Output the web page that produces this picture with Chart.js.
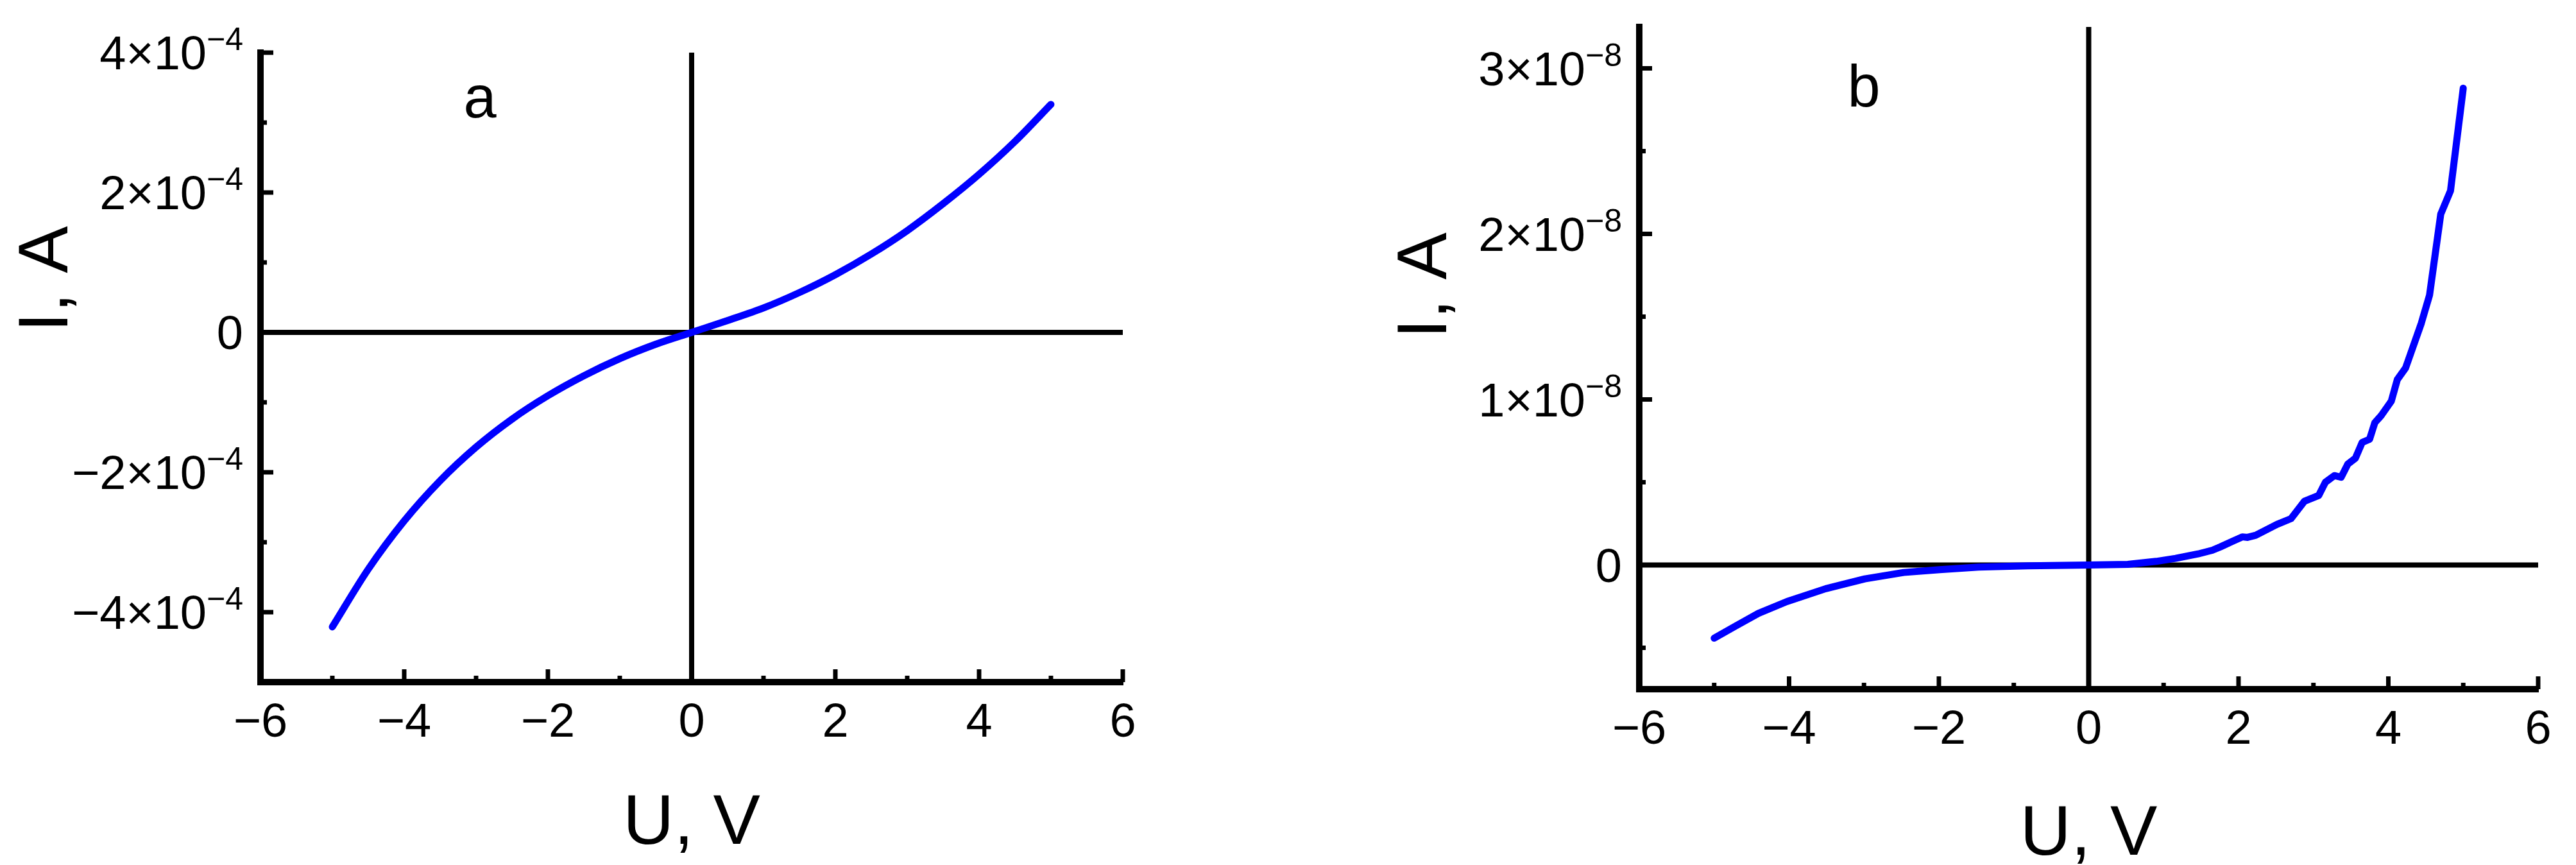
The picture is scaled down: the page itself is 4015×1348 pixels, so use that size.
<!DOCTYPE html>
<html lang="en">
<head>
<meta charset="UTF-8">
<title>I-V curves</title>
<script src="https://cdn.jsdelivr.net/npm/chart.js"></script>
<style>
  html, body { margin: 0; padding: 0; background: #fff; }
  body { width: 4015px; height: 1348px; position: relative; overflow: hidden; }
  .panel { position: absolute; top: 0; height: 1348px; }
  #panelA { left: 0; width: 2000px; }
  #panelB { left: 2000px; width: 2015px; }
</style>
</head>
<body>
<div class="panel" id="panelA"><canvas id="chartA" width="2000" height="1348"></canvas></div>
<div class="panel" id="panelB"><canvas id="chartB" width="2015" height="1348"></canvas></div>
<script>
// panel a: voltage (V) and current (A)
const voltageA = [-5.0, -4.5, -4.0, -3.5, -3.0, -2.5, -2.0, -1.5, -1.0, -0.5, 0.0,
                  0.5, 1.0, 1.5, 2.0, 2.5, 3.0, 3.5, 4.0, 4.5, 5.0];
const currentA = [-4.21e-4, -3.385e-4, -2.695e-4, -2.12e-4, -1.64e-4, -1.24e-4, -0.905e-4, -0.62e-4, -0.375e-4, -0.17e-4, 0,
                  0.17e-4, 0.35e-4, 0.57e-4, 0.825e-4, 1.12e-4, 1.455e-4, 1.84e-4, 2.26e-4, 2.73e-4, 3.26e-4];

// panel b
const voltageB = [-5.00, -4.72, -4.41, -4.03, -3.51, -2.99, -2.47, -1.99, -1.47, -0.81, 0.00, 0.52, 0.90, 1.16, 1.46, 1.65, 1.76,
                  1.93, 2.05, 2.12, 2.23, 2.51, 2.70, 2.88, 3.07, 3.16, 3.28, 3.37, 3.46, 3.56, 3.65, 3.75, 3.82, 3.90, 4.04,
                  4.12, 4.23, 4.44, 4.55, 4.70, 4.83, 5.00];
const currentB = [-0.442e-8, -0.37e-8, -0.292e-8, -0.221e-8, -0.143e-8, -0.084e-8, -0.045e-8, -0.028e-8, -0.013e-8, -0.005e-8, 0,
                  0.004e-8, 0.022e-8, 0.04e-8, 0.067e-8, 0.089e-8, 0.11e-8, 0.145e-8, 0.17e-8, 0.167e-8, 0.18e-8, 0.245e-8,
                  0.28e-8, 0.385e-8, 0.42e-8, 0.50e-8, 0.54e-8, 0.53e-8, 0.61e-8, 0.645e-8, 0.74e-8, 0.76e-8, 0.86e-8, 0.90e-8,
                  0.99e-8, 1.12e-8, 1.19e-8, 1.46e-8, 1.63e-8, 2.12e-8, 2.26e-8, 2.88e-8];

const xTicks = [-6, -4, -2, 0, 2, 4, 6];
const xTickLabels = ['−6', '−4', '−2', '0', '2', '4', '6'];
const xMinorTicks = [-5, -3, -1, 1, 3, 5];

const yTicksA = [-4e-4, -2e-4, 0, 2e-4, 4e-4];
const yTickLabelsA = ['−4×10^−4', '−2×10^−4', '0', '2×10^−4', '4×10^−4'];
const yMinorTicksA = [-3e-4, -1e-4, 1e-4, 3e-4];

const yTicksB = [0, 1e-8, 2e-8, 3e-8];
const yTickLabelsB = ['0', '1×10^−8', '2×10^−8', '3×10^−8'];
const yMinorTicksB = [-0.5e-8, 0.5e-8, 1.5e-8, 2.5e-8];

const FONT = '"Liberation Sans", Arial, sans-serif';
const TICK_SIZE = 74;
const SUP_SIZE = 50;
const TITLE_SIZE = 110;

function line(ctx, x1, y1, x2, y2) {
    ctx.beginPath();
    ctx.moveTo(x1, y1);
    ctx.lineTo(x2, y2);
    ctx.stroke();
}

// tick label with optional superscript exponent after '^'
function drawSupLabel(ctx, text, xRight, yMid) {
    const parts = text.split('^');
    ctx.font = TICK_SIZE + 'px ' + FONT;
    const w1 = ctx.measureText(parts[0]).width;
    let w2 = 0;
    if (parts[1]) {
        ctx.font = SUP_SIZE + 'px ' + FONT;
        w2 = ctx.measureText(parts[1]).width;
    }
    const x0 = xRight - w1 - w2;
    const base = yMid + TICK_SIZE * 0.716 / 2;
    ctx.textAlign = 'left';
    ctx.textBaseline = 'alphabetic';
    ctx.font = TICK_SIZE + 'px ' + FONT;
    ctx.fillText(parts[0], x0, base);
    if (parts[1]) {
        ctx.font = SUP_SIZE + 'px ' + FONT;
        ctx.fillText(parts[1], x0 + w1, base - 30);
    }
}

function makeDecor(cfg) {
    return {
        id: 'decor',
        beforeDatasetsDraw(chart) {
            const ctx = chart.ctx;
            const area = chart.chartArea;
            const x0 = chart.scales.x.getPixelForValue(0);
            const y0 = chart.scales.y.getPixelForValue(0);
            ctx.save();
            ctx.strokeStyle = '#000';
            ctx.lineWidth = 8;
            line(ctx, area.left, y0, area.right, y0);
            line(ctx, x0, area.top, x0, area.bottom);
            ctx.restore();
        },
        afterDraw(chart) {
            const ctx = chart.ctx;
            const area = chart.chartArea;
            const xs = chart.scales.x;
            const ys = chart.scales.y;
            ctx.save();
            ctx.strokeStyle = '#000';
            ctx.fillStyle = '#000';
            ctx.fillRect(area.left - 5, area.bottom - 5, 10, 10);

            // inward ticks
            ctx.lineWidth = 7;
            xTicks.forEach(v => { const p = xs.getPixelForValue(v); line(ctx, p, area.bottom, p, area.bottom - 20); });
            xMinorTicks.forEach(v => { const p = xs.getPixelForValue(v); line(ctx, p, area.bottom, p, area.bottom - 10); });
            cfg.yTicks.forEach(v => { const p = ys.getPixelForValue(v); line(ctx, area.left, p, area.left + 20, p); });
            cfg.yMinor.forEach(v => { const p = ys.getPixelForValue(v); line(ctx, area.left, p, area.left + 10, p); });

            // x tick labels
            ctx.font = TICK_SIZE + 'px ' + FONT;
            ctx.textAlign = 'center';
            ctx.textBaseline = 'alphabetic';
            xTicks.forEach((v, i) => ctx.fillText(xTickLabels[i], xs.getPixelForValue(v), area.bottom + 85));

            // y tick labels
            cfg.yTicks.forEach((v, i) => drawSupLabel(ctx, cfg.yLabels[i], area.left - 27, ys.getPixelForValue(v)));

            // axis titles
            ctx.font = TITLE_SIZE + 'px ' + FONT;
            ctx.textAlign = 'center';
            ctx.textBaseline = 'alphabetic';
            ctx.fillText('U, V', (area.left + area.right) / 2, area.bottom + cfg.xTitleOffset);
            ctx.save();
            ctx.translate(area.left - 340, cfg.yTitleY);
            ctx.rotate(-Math.PI / 2);
            ctx.fillText('I, A', 0, TITLE_SIZE * 0.716 / 2);
            ctx.restore();

            // panel letter
            ctx.font = '92px ' + FONT;
            ctx.fillText(cfg.letter, cfg.letterX, cfg.letterY);
            ctx.restore();
        }
    };
}

function makePanel(canvasId, volts, amps, cfg) {
    const points = volts.map((u, i) => ({ x: u, y: amps[i] }));
    return new Chart(document.getElementById(canvasId), {
        type: 'scatter',
        data: {
            datasets: [{
                data: points,
                showLine: true,
                borderColor: '#0000ff',
                borderWidth: 11,
                borderCapStyle: 'round',
                borderJoinStyle: 'round',
                pointRadius: 0,
                tension: cfg.smooth ? 0.4 : 0,
                cubicInterpolationMode: cfg.smooth ? 'monotone' : 'default'
            }]
        },
        options: {
            responsive: false,
            animation: false,
            layout: { padding: { top: cfg.top, right: cfg.right, left: 0, bottom: 0 } },
            plugins: { legend: { display: false }, tooltip: { enabled: false } },
            scales: {
                x: {
                    type: 'linear', min: -6, max: 6,
                    grid: { display: false },
                    border: { display: true, color: '#000', width: 10 },
                    ticks: { display: false, stepSize: 2 },
                    afterFit: s => { s.height = cfg.xHeight; }
                },
                y: {
                    type: 'linear', min: cfg.yMin, max: cfg.yMax,
                    grid: { display: false },
                    border: { display: true, color: '#000', width: 10 },
                    ticks: { display: false },
                    afterFit: s => { s.width = cfg.yWidth; }
                }
            }
        },
        plugins: [makeDecor(cfg)]
    });
}

makePanel('chartA', voltageA, currentA, {
    smooth: true, top: 82, right: 250, xHeight: 285, yWidth: 406,
    yMin: -5e-4, yMax: 4e-4,
    yTicks: yTicksA, yLabels: yTickLabelsA, yMinor: yMinorTicksA,
    xTitleOffset: 252, yTitleY: 435,
    letter: 'a', letterX: 748, letterY: 183
});

makePanel('chartB', voltageB, currentB, {
    smooth: false, top: 42, right: 59, xHeight: 274, yWidth: 555,
    yMin: -0.75e-8, yMax: 3.25e-8,
    yTicks: yTicksB, yLabels: yTickLabelsB, yMinor: yMinorTicksB,
    xTitleOffset: 258, yTitleY: 445,
    letter: 'b', letterX: 905, letterY: 166
});
</script>
</body>
</html>
